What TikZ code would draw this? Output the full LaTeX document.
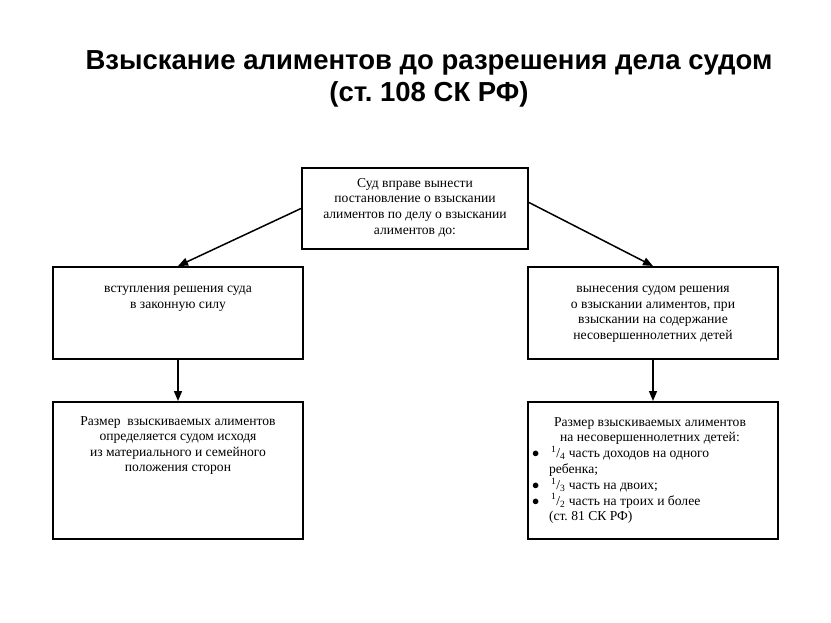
\documentclass[tikz,border=0pt]{standalone}
\usepackage{fontspec}
\setmainfont{Liberation Serif}
\newfontfamily\titlefont{Liberation Sans}
\usetikzlibrary{arrows.meta}
\frenchspacing

\begin{document}
\begin{tikzpicture}[x=1pt, y=-1pt,
        blk/.style = {draw, line width=2pt, inner sep=0pt, anchor=north west},
        txt/.style = {anchor=north, inner sep=0pt, font=\fontsize{13.6}{15.6}\selectfont},
        arr/.style = {line width=1.5pt, -{Triangle[length=10pt, width=8pt]}}]
        \useasboundingbox (0,0) rectangle (831,623);
        \node[font=\titlefont\bfseries\fontsize{27.5}{32}\selectfont, align=center] (title) at (429,79)
            {Взыскание алиментов до разрешения дела судом\\(ст. 108 СК РФ)};
        % boxes
        \node[blk, minimum width=226pt, minimum height=81pt] (top) at (301,167) {};
        \node[blk, minimum width=250pt, minimum height=92pt] (lmid) at (52,266) {};
        \node[blk, minimum width=250pt, minimum height=92pt] (rmid) at (527,266) {};
        \node[blk, minimum width=250pt, minimum height=137pt] (lbot) at (52,401) {};
        \node[blk, minimum width=250pt, minimum height=137pt] (rbot) at (527,401) {};
        % texts
        \begin{scope}[every node/.append style = {txt}]
            \node[align=center] (toptxt) at ([yshift=-11pt]top.north)
                {Суд вправе вынести\\постановление о взыскании\\алиментов по делу о взыскании\\алиментов до:};
            \node[align=center] (lmidtxt) at ([yshift=-20pt]lmid.north)
                {вступления решения суда\\в законную силу};
            \node[align=center] (rmidtxt) at ([yshift=-20pt]rmid.north)
                {вынесения судом решения\\о взыскании алиментов, при\\взыскании на содержание\\несовершеннолетних детей};
            \node[align=center] (lbottxt) at ([yshift=-15pt]lbot.north)
                {Размер\ \ взыскиваемых алиментов\\определяется судом исходя\\из материального и семейного\\положения сторон};
            \node[align=left, font=\fontsize{13.6}{15.8}\selectfont] (rbottxt) at ([xshift=-3pt, yshift=-16pt]rbot.north)
                {\makebox[236pt][c]{Размер взыскиваемых алиментов}\\
                \makebox[236pt][c]{на несовершеннолетних детей:}\\
                $\bullet$\hspace{12pt}\textsuperscript{1}/\textsubscript{4} часть доходов на одного\\
                \hspace*{17pt}ребенка;\\
                $\bullet$\hspace{12pt}\textsuperscript{1}/\textsubscript{3} часть на двоих;\\
                $\bullet$\hspace{12pt}\textsuperscript{1}/\textsubscript{2} часть на троих и более\\
                \hspace*{17pt}(ст. 81 СК РФ)};
        \end{scope}
        % connectors
        \draw[arr] (top.west) -- (lmid.north);
        \draw[arr] ([yshift=6pt]top.east) -- (rmid.north);
        \draw[arr] (lmid.south) -- (lbot.north);
        \draw[arr] (rmid.south) -- (rbot.north);
    \end{tikzpicture}
\end{document}
